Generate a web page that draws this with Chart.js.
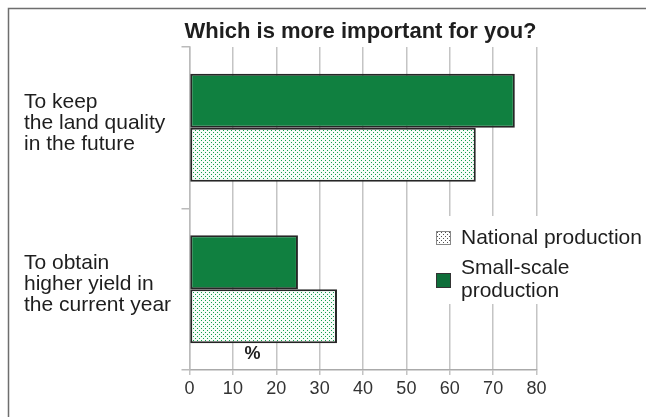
<!DOCTYPE html>
<html>
<head>
<meta charset="utf-8">
<script src="https://cdn.jsdelivr.net/npm/chart.js@4/dist/chart.umd.min.js"></script>
<style>
  html, body { margin: 0; padding: 0; background: #fff; }
  #wrap { width: 646px; height: 417px; }
</style>
</head>
<body>
<div id="wrap"><canvas id="chart" width="646" height="417"></canvas></div>
<script>
// chart data
const categories = [
  ['To keep', 'the land quality', 'in the future'],
  ['To obtain', 'higher yield in', 'the current year']
];
const smallScale = [75, 25];
const national = [66, 34];
const seriesNames = ['Small-scale production', 'National production'];
const xMin = 0, xMax = 80, xStep = 10;
const chartTitle = 'Which is more important for you?';
const unitLabel = '%';

const GREEN = '#108040';
const FONT = '"Liberation Sans", Arial, sans-serif';

// dotted fill used for the national series
function makeDots(dotColor, bg) {
  const c = document.createElement('canvas');
  c.width = 4; c.height = 4;
  const g = c.getContext('2d');
  g.fillStyle = bg;
  g.fillRect(0, 0, 4, 4);
  g.fillStyle = dotColor;
  g.fillRect(1, 0, 1, 1);
  g.fillRect(3, 2, 1, 1);
  return g.createPattern(c, 'repeat');
}
const ctx = document.getElementById('chart').getContext('2d');
const dotFill = makeDots('#12a04c', '#f6fcf8');
const legendDots = makeDots('#555', '#fff');

// frame, title, % label and the boxed legend
const extras = {
  id: 'extras',
  beforeDraw(chart) {
    const c = chart.ctx;
    c.save();
    c.strokeStyle = '#6e6e6e';
    c.lineWidth = 1.5;
    c.beginPath();
    c.moveTo(8.5, 417);
    c.lineTo(8.5, 8.5);
    c.lineTo(646, 8.5);
    c.stroke();
    c.restore();
  },
  afterDraw(chart) {
    const c = chart.ctx;
    const a = chart.chartArea;
    const xs = chart.scales.x;
    c.save();
    c.fillStyle = '#1e1e1e';
    c.font = 'bold 22px ' + FONT;
    c.textAlign = 'center';
    c.textBaseline = 'middle';
    c.fillText(chartTitle, 360.5, 32);

    c.font = 'bold 18px ' + FONT;
    c.fillText(unitLabel, xs.getPixelForValue(14.5), a.bottom - 16);

    // legend box
    c.fillStyle = '#fff';
    c.fillRect(410, 216, 236, 88);
    c.textAlign = 'left';
    c.font = '21px ' + FONT;
    c.fillStyle = legendDots;
    c.fillRect(436, 231, 14, 13);
    c.strokeStyle = '#888';
    c.lineWidth = 1;
    c.strokeRect(436.5, 231.5, 14, 13);
    c.fillStyle = '#1e1e1e';
    c.fillText(seriesNames[1], 461, 238);

    c.fillStyle = '#0f6e3a';
    c.fillRect(436, 273, 15, 15);
    c.strokeStyle = '#333';
    c.strokeRect(436.5, 273.5, 14, 14);
    c.fillStyle = '#1e1e1e';
    const parts = seriesNames[0].split(' ');
    c.fillText(parts[0], 461, 268);
    c.fillText(parts[1], 461, 291);
    c.restore();
  }
};

new Chart(ctx, {
  type: 'bar',
  data: {
    labels: categories,
    datasets: [{
      label: seriesNames[0],
      data: smallScale,
      backgroundColor: GREEN,
      borderColor: '#262626',
      borderWidth: 2,
      borderSkipped: false
    }, {
      label: seriesNames[1],
      data: national,
      backgroundColor: dotFill,
      borderColor: '#262626',
      borderWidth: 2,
      borderSkipped: false
    }]
  },
  options: {
    indexAxis: 'y',
    responsive: false,
    animation: false,
    devicePixelRatio: 1,
    categoryPercentage: 0.67,
    barPercentage: 1.0,
    layout: { padding: { left: 24, right: 109.5, top: 47, bottom: 0 } },
    plugins: {
      legend: { display: false },
      title: { display: false },
      tooltip: { enabled: false }
    },
    scales: {
      x: {
        min: xMin,
        max: xMax,
        ticks: {
          stepSize: xStep,
          color: '#333',
          padding: 3,
          font: { family: '"Liberation Sans Narrow", "Liberation Sans", Arial, sans-serif', size: 18 }
        },
        grid: { color: '#c4c4c4', lineWidth: 1.5, tickLength: 5 },
        border: { color: '#aaa', width: 1.5 },
        afterFit(scale) { scale.height = 47; }
      },
      y: {
        ticks: {
          crossAlign: 'far',
          color: '#1e1e1e',
          labelOffset: -5,
          font: { family: FONT, size: 21, lineHeight: 1.0 }
        },
        grid: { drawOnChartArea: false, color: '#bbb', lineWidth: 1.5, tickLength: 8, offset: true },
        border: { color: '#bbb', width: 1.5 },
        afterFit(scale) { scale.width = 165.5; }
      }
    }
  },
  plugins: [extras]
});
</script>
</body>
</html>
